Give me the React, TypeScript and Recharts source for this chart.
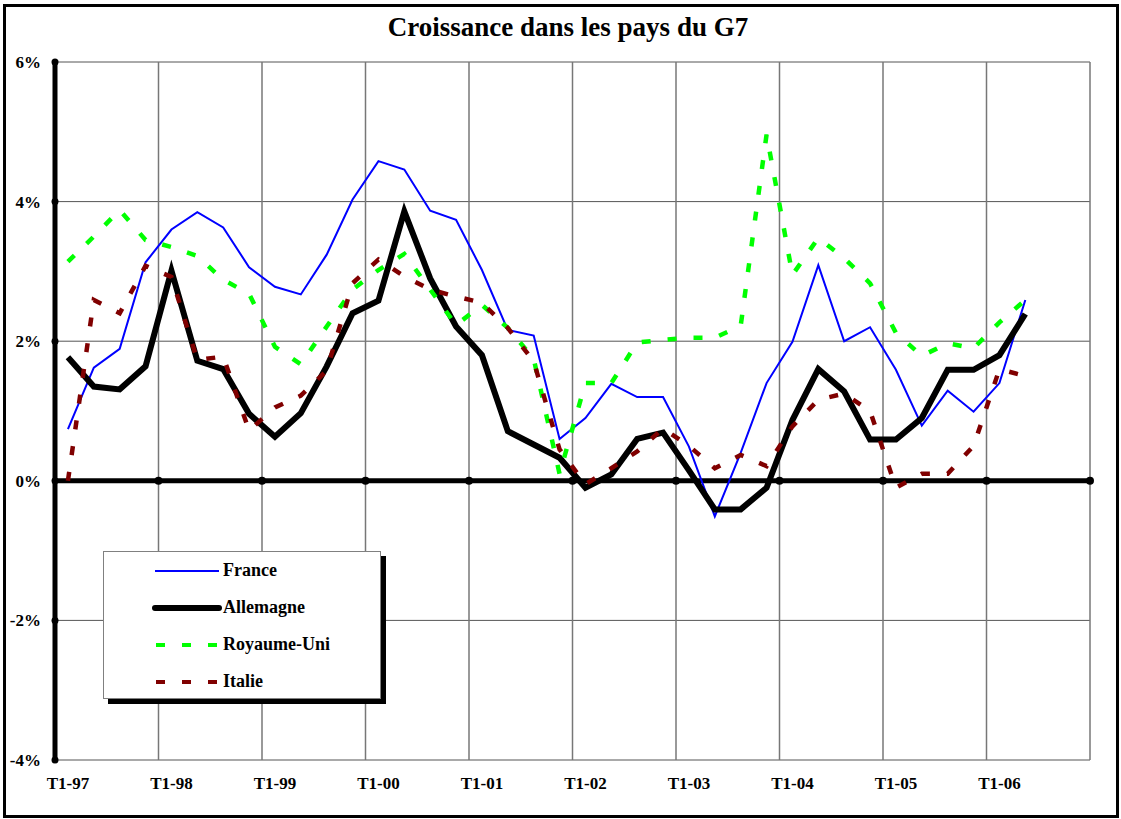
import React from "react";
import {
  LineChart,
  Line,
  XAxis,
  YAxis,
  CartesianGrid,
  ReferenceLine,
  ReferenceDot,
  Legend,
} from "recharts";

const SERIF = '"Liberation Serif", "Times New Roman", serif';

// quarters T1-97 .. T4-06
const years = ["97", "98", "99", "00", "01", "02", "03", "04", "05", "06"];
const quarters = years.flatMap((y) => [1, 2, 3, 4].map((q) => `T${q}-${y}`));

// growth in % (year on year), T1-97 .. T2-06
const france = [
  0.74, 1.62, 1.89, 3.13, 3.6, 3.85, 3.63, 3.06, 2.78, 2.67, 3.24, 4.03, 4.58,
  4.46, 3.87, 3.74, 3.02, 2.16, 2.08, 0.6, 0.9, 1.39, 1.2, 1.2, 0.49, -0.51,
  0.4, 1.4, 1.99, 3.09, 2.0, 2.2, 1.59, 0.79, 1.29, 0.99, 1.4, 2.59,
];
const allemagne = [
  1.77, 1.35, 1.31, 1.64, 3.01, 1.72, 1.6, 0.96, 0.63, 0.97, 1.64, 2.4, 2.58,
  3.86, 2.9, 2.21, 1.8, 0.71, 0.52, 0.33, -0.1, 0.09, 0.6, 0.69, 0.15, -0.41,
  -0.41, -0.1, 0.87, 1.6, 1.28, 0.59, 0.59, 0.9, 1.59, 1.59, 1.8, 2.39,
];
const royaumeUni = [
  3.14, 3.5, 3.88, 3.45, 3.35, 3.22, 2.88, 2.68, 1.92, 1.67, 2.21, 2.74, 3.02,
  3.25, 2.74, 2.23, 2.52, 2.19, 1.75, 0.1, 1.4, 1.4, 1.98, 2.02, 2.05, 2.05,
  2.22, 4.96, 2.95, 3.48, 3.19, 2.83, 2.12, 1.79, 1.97, 1.9, 2.27, 2.59,
];
const italie = [
  0.0, 2.59, 2.4, 3.08, 2.92, 1.73, 1.78, 0.72, 1.05, 1.22, 1.58, 2.83, 3.17,
  2.93, 2.74, 2.64, 2.55, 2.19, 1.71, 0.45, -0.05, 0.18, 0.42, 0.75, 0.5, 0.18,
  0.37, 0.21, 0.78, 1.16, 1.25, 1.0, -0.1, 0.1, 0.1, 0.5, 1.6, 1.5,
];

const yTicks = [-4, -2, 0, 2, 4, 6];
const yearStarts = years.map((_, i) => i * 4);
// category boundaries between years (grid lines + tick dots on the zero line)
const yearBounds = [...yearStarts.map((i) => i - 0.5), quarters.length - 0.5];

const series = [
  { key: "france", name: "France", color: "#0000ff", width: 2, dash: undefined },
  { key: "allemagne", name: "Allemagne", color: "#000000", width: 6, dash: undefined },
  { key: "royaumeUni", name: "Royaume-Uni", color: "#00ff00", width: 4.5, dash: "9 17" },
  { key: "italie", name: "Italie", color: "#800000", width: 4.5, dash: "9 17" },
];

const data = quarters.map((q, i) => ({
  i,
  q,
  france: france[i] ?? null,
  allemagne: allemagne[i] ?? null,
  royaumeUni: royaumeUni[i] ?? null,
  italie: italie[i] ?? null,
}));

function LegendBox(props: any) {
  const payload = props.payload || [];
  // keep the series order, not the sorted payload order
  const shown = series.filter((s) => payload.some((p: any) => p.dataKey === s.key));
  return (
    <div
      style={{
        width: 278,
        height: 148,
        boxSizing: "border-box",
        background: "#fff",
        border: "1px solid #808080",
        boxShadow: "5px 5px 0 #000",
        paddingTop: 0,
      }}
    >
      {shown.map((s) => (
        <div
          key={s.key}
          style={{ display: "flex", alignItems: "center", height: 37 }}
        >
          <svg width={119} height={12} style={{ display: "block" }}>
            <line
              x1={s.dash ? 52 : 51}
              x2={s.dash ? 116 : 115}
              y1={6}
              y2={6}
              stroke={s.color}
              strokeWidth={s.key === "france" ? 2 : s.key === "allemagne" ? 6 : 4}
              strokeDasharray={s.dash}
              strokeLinecap={s.key === "allemagne" ? "round" : "butt"}
            />
          </svg>
          <span
            style={{
              fontFamily: SERIF,
              fontWeight: "bold",
              fontSize: 18,
            }}
          >
            {s.name}
          </span>
        </div>
      ))}
    </div>
  );
}

export default function App() {
  const tickStyle = { fill: "#000", fontSize: 17, fontWeight: "bold", fontFamily: SERIF };
  return (
    <div
      style={{
        position: "absolute",
        left: 0,
        top: 0,
        width: 1121,
        height: 819,
        background: "#fff",
      }}
    >
      <div
        style={{
          position: "absolute",
          left: 3,
          top: 4,
          width: 1116,
          height: 814,
          boxSizing: "border-box",
          border: "3px solid #000",
        }}
      />
      <div
        style={{
          position: "absolute",
          left: 0,
          width: 1136,
          top: 12,
          textAlign: "center",
          fontFamily: SERIF,
          fontWeight: "bold",
          fontSize: 27,
        }}
      >
        Croissance dans les pays du G7
      </div>
      <div style={{ position: "absolute", left: 0, top: 0 }}>
        <LineChart
          width={1121}
          height={819}
          data={data}
          margin={{ top: 62, right: 31, left: 10, bottom: 19 }}
        >
          <CartesianGrid vertical={false} stroke="#555" strokeWidth={1} />
          {yearBounds.map((b) => (
            <ReferenceLine key={`v${b}`} x={b} stroke="#777" strokeWidth={1.5} />
          ))}
          <XAxis
            dataKey="i"
            type="number"
            domain={[-0.5, quarters.length - 0.5]}
            ticks={yearStarts}
            tickFormatter={(v: number) => quarters[v]}
            axisLine={false}
            tickLine={false}
            tickSize={6}
            tickMargin={11}
            height={40}
            tick={tickStyle}
            interval={0}
          />
          <YAxis
            type="number"
            domain={[-4, 6]}
            ticks={yTicks}
            tickFormatter={(v: number) => `${v}%`}
            axisLine={{ stroke: "#000", strokeWidth: 5, strokeLinecap: "round" }}
            tickLine={false}
            tickSize={6}
            tickMargin={8}
            width={45}
            tick={tickStyle}
            interval={0}
          />
          <ReferenceLine y={0} stroke="#000" strokeWidth={5} />
          {yearBounds.slice(1).map((b) => (
            <ReferenceDot key={`d${b}`} x={b} y={0} r={4} fill="#000" stroke="none" />
          ))}
          {yTicks.map((t) => (
            <ReferenceDot key={`y${t}`} x={-0.5} y={t} r={3.5} fill="#000" stroke="none" />
          ))}
          {series.map((s) => (
            <Line
              key={s.key}
              type="linear"
              dataKey={s.key}
              name={s.name}
              stroke={s.color}
              strokeWidth={s.width}
              strokeDasharray={s.dash}
              dot={false}
              activeDot={false}
              isAnimationActive={false}
            />
          ))}
          <Legend
            layout="horizontal"
            verticalAlign="middle"
            align="center"
            content={<LegendBox />}
            wrapperStyle={{ left: 103, top: 551, width: 278, height: 148 }}
          />
        </LineChart>
      </div>
    </div>
  );
}
